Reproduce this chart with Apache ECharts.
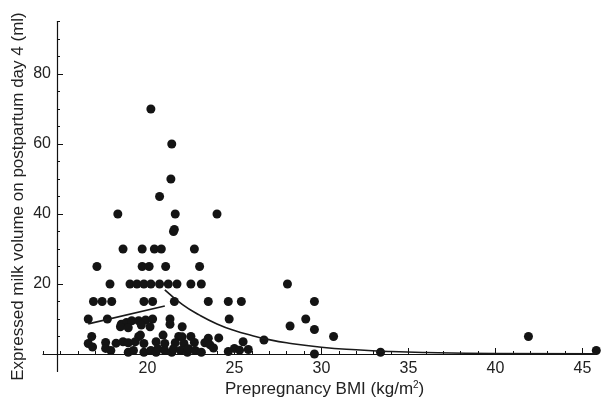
<!DOCTYPE html>
<html>
<head>
<meta charset="utf-8">
<script src="https://cdn.jsdelivr.net/npm/echarts@6/dist/echarts.min.js"></script>
<style>
  html, body { margin: 0; padding: 0; background: #fff; }
  #chart { width: 605px; height: 402px; }
</style>
</head>
<body>
<div id="chart"></div>
<script>
// Prepregnancy BMI vs expressed milk volume on postpartum day 4
const xTickLabels = [20, 25, 30, 35, 40, 45];
const yTickLabels = [20, 40, 60, 80];

// [BMI, volume (ml)]
const mothers = [
  [20.2, 70], [21.4, 60], [21.35, 50], [20.7, 45],
  [18.3, 40], [21.6, 40], [24.0, 40], [21.5, 35], [21.55, 35.6],
  [18.6, 30], [19.7, 30], [20.4, 30], [20.8, 30], [22.7, 30],
  [17.1, 25], [19.7, 25], [20.1, 25], [21.05, 25], [23.0, 25],
  [17.85, 20], [19.0, 20], [19.4, 20], [19.8, 20], [20.2, 20], [20.7, 20],
  [21.2, 20], [21.7, 20], [22.5, 20], [23.1, 20], [28.05, 20],
  [16.9, 15], [17.4, 15], [17.95, 15], [19.8, 15], [20.3, 15], [21.55, 15],
  [23.5, 15], [24.65, 15], [25.4, 15], [29.6, 15],
  [16.6, 10], [17.7, 10], [18.5, 8.5], [18.8, 9], [19.1, 9.5], [19.5, 9.5],
  [19.9, 9.7], [20.3, 10], [21.3, 10], [21.3, 8.5], [24.7, 10], [29.1, 10],
  [19.65, 8.3], [20.15, 7.8], [18.45, 7.8], [18.9, 7.5], [22.0, 7.8],
  [28.2, 8], [29.6, 7],
  [16.8, 5], [19.5, 5], [19.6, 5.4], [20.9, 5.4], [21.8, 5], [22.0, 4.9],
  [22.5, 5], [24.1, 4.6], [23.5, 4.5], [30.7, 5], [26.7, 4], [41.9, 5],
  [16.6, 3], [16.85, 2], [17.6, 3.3], [18.2, 3.1], [18.6, 3.5], [18.9, 3.2],
  [19.3, 3.5], [19.8, 3], [20.5, 3.5], [21.0, 3], [21.6, 3.2], [22.1, 3],
  [22.7, 3.3], [23.3, 3.2], [23.6, 2.6], [25.5, 3.5],
  [17.6, 1.6], [17.9, 1], [18.9, 0.5], [19.2, 1], [19.8, 0.5], [20.2, 1],
  [20.5, 0.5], [20.6, 1.5], [21.0, 1], [21.4, 0.5], [21.5, 1.5], [21.9, 1],
  [22.3, 0.5], [22.35, 1.5], [22.75, 1], [23.1, 0.5], [23.8, 1.7],
  [24.65, 0.7], [25.0, 1.6], [25.3, 1.1], [25.8, 1.3], [29.6, 0],
  [33.4, 0.5], [45.8, 1]
];

// fitted trend below the BMI threshold
const fitLow = [[16.6, 8.6], [21.0, 13.7]];
// fitted trend above the BMI threshold
const fitHigh = [
  [21.0, 18.3], [22, 14.2], [23, 11.1], [24, 8.6], [25, 6.7], [26, 5.3],
  [27, 4.1], [28, 3.2], [30, 1.95], [32, 1.2], [34, 0.7], [36, 0.42],
  [40, 0.15], [45.8, 0.05]
];

const minorX = [];
for (let v = 14; v <= 45; v++) minorX.push(v);
const minorY = [];
for (let v = 5; v <= 95; v += 5) minorY.push(v);

const textColor = '#222';
const font = 'Liberation Sans, Arial, sans-serif';

const chart = echarts.init(document.getElementById('chart'), null, { renderer: 'canvas' });
chart.setOption({
  animation: false,
  backgroundColor: '#fff',
  grid: { left: 43, right: 8.7, top: 21.5, bottom: 30.5, containLabel: false, outerBoundsMode: 'none' },
  xAxis: [
    {
      type: 'value', min: 14, max: 45.8,
      name: 'Prepregnancy BMI (kg/m{sup|2})',
      nameLocation: 'middle', nameGap: 9, nameMoveOverlap: false,
      nameTextStyle: {
        fontSize: 17, color: textColor, fontFamily: font, padding: [0, 0, 0, 10],
        rich: { sup: { fontSize: 10, verticalAlign: 'top', lineHeight: 10, color: textColor, fontFamily: font } }
      },
      axisLine: { show: true, onZero: true, lineStyle: { color: '#111', width: 1.2 } },
      axisTick: { show: true, inside: true, length: 6, customValues: xTickLabels, lineStyle: { color: '#111' } },
      axisLabel: { customValues: xTickLabels, fontSize: 16, margin: -11, color: textColor, fontFamily: font },
      splitLine: { show: false }
    },
    {
      type: 'value', min: 14, max: 45.8, position: 'bottom',
      axisLine: { show: false, onZero: true },
      axisTick: { show: true, inside: true, length: 3, customValues: minorX, lineStyle: { color: '#111' } },
      axisLabel: { show: false },
      splitLine: { show: false }
    }
  ],
  yAxis: [
    {
      type: 'value', min: -5, max: 95, offset: -14,
      name: 'Expressed milk volume on postpartum day 4 (ml)',
      nameLocation: 'middle', nameGap: 30, nameMoveOverlap: false,
      nameTextStyle: { fontSize: 17, color: textColor, fontFamily: font },
      axisLine: { show: true, onZero: false, lineStyle: { color: '#111', width: 1.2 } },
      axisTick: { show: true, inside: true, length: 6, customValues: yTickLabels, lineStyle: { color: '#111' } },
      axisLabel: { customValues: yTickLabels, fontSize: 16, margin: 6, color: textColor, fontFamily: font },
      splitLine: { show: false }
    },
    {
      type: 'value', min: -5, max: 95, offset: -14, position: 'left',
      axisLine: { show: false, onZero: false },
      axisTick: { show: true, inside: true, length: 3, customValues: minorY, lineStyle: { color: '#111' } },
      axisLabel: { show: false },
      splitLine: { show: false }
    }
  ],
  series: [
    {
      type: 'scatter', data: mothers, symbolSize: 9,
      itemStyle: { color: '#141414', opacity: 1 }, z: 3
    },
    {
      type: 'line', data: fitLow, showSymbol: false, symbol: 'none',
      lineStyle: { color: '#1a1a1a', width: 1.6 }, z: 4
    },
    {
      type: 'line', data: fitHigh, showSymbol: false, symbol: 'none', smooth: true,
      lineStyle: { color: '#1a1a1a', width: 1.6 }, z: 4
    }
  ]
});
</script>
</body>
</html>
